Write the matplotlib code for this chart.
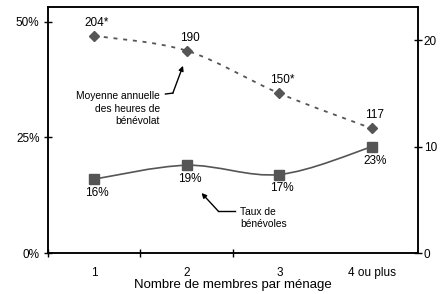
import matplotlib
matplotlib.use('Agg')
import matplotlib.pyplot as plt
from matplotlib.path import Path
from matplotlib.patches import PathPatch

plt.rcParams['font.family'] = ['Liberation Sans', 'DejaVu Sans']

# ── Data ──
categories = ['1', '2', '3', '4 ou plus']
taux = [16, 19, 17, 23]                 # % volunteers (left axis)
heures = [204, 190, 150, 117]           # average annual hours (right axis)
heures_labels = ['204*', '190', '150*', '117']
left_ticks = [0, 25, 50]
left_tick_labels = ['0%', '25%', '50%']
right_ticks = [0, 100, 200]
right_tick_labels = ['0', '10', '20']

GREY = '#555555'


def smooth_path(xs, ys):
    # Excel-like smoothed line: cubic bezier through the points
    pts = list(zip(xs, ys))
    verts = [pts[0]]
    codes = [Path.MOVETO]
    n = len(pts)
    for i in range(n - 1):
        p0 = pts[i - 1] if i > 0 else pts[i]
        p1 = pts[i]
        p2 = pts[i + 1]
        p3 = pts[i + 2] if i + 2 < n else pts[i + 1]
        c1 = (p1[0] + (p2[0] - p0[0]) / 6, p1[1] + (p2[1] - p0[1]) / 6)
        c2 = (p2[0] - (p3[0] - p1[0]) / 6, p2[1] - (p3[1] - p1[1]) / 6)
        verts += [c1, c2, p2]
        codes += [Path.CURVE4] * 3
    return Path(verts, codes)


fig = plt.figure(figsize=(4.43, 2.94), dpi=100)
ax = fig.add_axes([0.108, 0.139, 0.836, 0.837])
ax2 = ax.twinx()

x = list(range(1, len(categories) + 1))

# volunteer rate (solid)
ax.add_patch(PathPatch(smooth_path(x, taux), fill=False, edgecolor=GREY, lw=1.2))
ax.plot(x, taux, 's', ms=7, color=GREY, zorder=3)
for xi, v in zip(x, taux):
    ax.annotate(f'{v}%', (xi, v), xytext=(2, -10), textcoords='offset points',
                ha='center', va='center', fontsize=8.5)

# hours (dotted)
ax2.add_patch(PathPatch(smooth_path(x, heures), fill=False, edgecolor=GREY,
                        lw=1.3, linestyle=(0, (2.2, 3.2))))
ax2.plot(x, heures, 'D', ms=5, color=GREY, zorder=3)
for xi, v, lab in zip(x, heures, heures_labels):
    ax2.annotate(lab, (xi, v), xytext=(2, 9.5), textcoords='offset points',
                 ha='center', va='center', fontsize=8.5)

ax.set_xlim(0.5, len(categories) + 0.5)
ax.set_ylim(0, 53.2)
ax2.set_ylim(0, 231)

ax.set_xticks(x)
ax.set_xticklabels(categories, fontsize=8.5)
ax.set_xticks([i + 0.5 for i in range(len(categories) - 1)], minor=True)
ax.tick_params(axis='x', which='major', length=0, pad=10)
ax.tick_params(axis='x', which='minor', length=6, direction='inout', width=1)

ax.set_yticks(left_ticks)
ax.set_yticklabels(left_tick_labels, fontsize=8.5)
ax.tick_params(axis='y', length=6, direction='inout', width=1, pad=3)
ax2.set_yticks(right_ticks)
ax2.set_yticklabels(right_tick_labels, fontsize=8.5)
ax2.tick_params(axis='y', length=6, direction='inout', width=1, pad=1)

for a in (ax, ax2):
    for s in a.spines.values():
        s.set_linewidth(1.1)

ax.set_xlabel('Nombre de membres par ménage', fontsize=9.5, labelpad=0)

# annotations
ax.text(1.71, 31.2, 'Moyenne annuelle\ndes heures de\nbénévolat', fontsize=7.4,
        ha='right', va='center', linespacing=1.3)
ax.plot([1.77, 1.85], [34.4, 34.6], color='black', lw=1)
ax.annotate('', xy=(1.96, 40.5), xytext=(1.85, 34.6),
            arrowprops=dict(arrowstyle='-|>', color='black', lw=1,
                            mutation_scale=7, shrinkA=0, shrinkB=0))

ax.text(2.58, 7.6, 'Taux de\nbénévoles', fontsize=7.4, ha='left', va='center',
        linespacing=1.3)
ax.plot([2.52, 2.34], [9.1, 9.1], color='black', lw=1)
ax.annotate('', xy=(2.16, 13.0), xytext=(2.34, 9.1),
            arrowprops=dict(arrowstyle='-|>', color='black', lw=1,
                            mutation_scale=7, shrinkA=0, shrinkB=0))

fig.savefig('out.png', dpi=100)
